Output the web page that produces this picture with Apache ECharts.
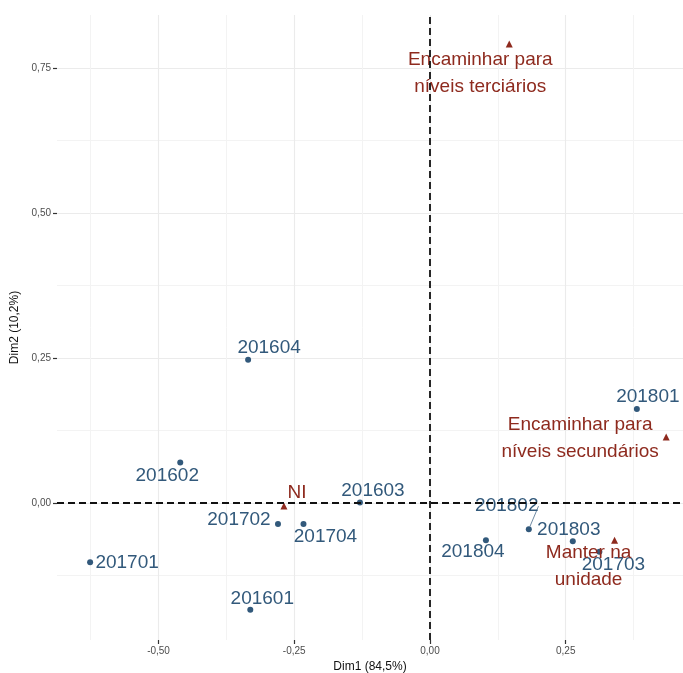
<!DOCTYPE html>
<html>
<head>
<meta charset="utf-8">
<script src="https://cdn.jsdelivr.net/npm/echarts@6/dist/echarts.min.js"></script>
<style>
  html, body { margin: 0; padding: 0; background: #fff; }
  #main { width: 683px; height: 673px; }
</style>
</head>
<body>
<div id="main"></div>
<script>
// linhas (periodos)
var rowNames = ['201601', '201602', '201603', '201604', '201701', '201702',
                '201703', '201704', '201801', '201802', '201803', '201804'];
var rowDim1 = [-0.331, -0.460, -0.129, -0.335, -0.626, -0.280,
               0.312, -0.233, 0.381, 0.182, 0.263, 0.103];
var rowDim2 = [-0.184, 0.070, 0.001, 0.247, -0.102, -0.036,
               -0.084, -0.036, 0.162, -0.045, -0.066, -0.064];

// colunas (conduta)
var colNames = ['Encaminhar para\nníveis terciários', 'Encaminhar para\nníveis secundários',
                'Manter na\nunidade', 'NI'];
var colDim1 = [0.146, 0.435, 0.340, -0.269];
var colDim2 = [0.791, 0.114, -0.064, -0.005];

// eixos
var xMajor = [-0.5, -0.25, 0, 0.25];
var xMinor = [-0.625, -0.375, -0.125, 0.125, 0.375];
var yMajor = [0, 0.25, 0.5, 0.75];
var yMinor = [-0.125, 0.125, 0.375, 0.625];

// deslocamento dos rotulos (px), estilo ggrepel
var rowShift = [[12, -11], [-13, 13], [13, -12], [21, -12], [37, 1], [-39, -4],
                [14, 13], [22, 13], [11, -12], [-22, -23], [-4, -12], [-13, 12]];
var colShift = [[-29, 29], [-86, 1], [-26, 26], [13, -13]];

var blue = '#32597b';
var red = '#8e2a1e';
var font = 'Liberation Sans, Arial, Helvetica, sans-serif';

function fmt(v) {
  return v.toFixed(2).replace('.', ',');
}

var rowData = [];
for (var i = 0; i < rowNames.length; i++) {
  var item = { name: rowNames[i], value: [rowDim1[i], rowDim2[i]] };
  if (rowNames[i] === '201802') {
    item.labelLine = { show: true, lineStyle: { color: '#6f8aa3', width: 1 } };
  }
  rowData.push(item);
}
var colData = [];
for (var j = 0; j < colNames.length; j++) {
  colData.push({ name: colNames[j], value: [colDim1[j], colDim2[j]] });
}

var hiddenLine = { show: true, onZero: false, lineStyle: { color: 'rgba(0,0,0,0)', width: 0 } };

var myChart = echarts.init(document.getElementById('main'));
myChart.setOption({
  animation: false,
  backgroundColor: '#fff',
  grid: { left: 57, right: 0, top: 15, bottom: 33, outerBoundsMode: 'none', containLabel: false },
  xAxis: [
    {
      type: 'value',
      min: -0.687,
      max: 0.466,
      name: 'Dim1 (84,5%)',
      nameLocation: 'middle',
      nameGap: 21,
      nameTextStyle: { color: '#111', fontSize: 12, fontFamily: font },
      axisLine: hiddenLine,
      axisTick: { show: true, length: 4, customValues: xMajor, lineStyle: { color: '#333', width: 1.2 } },
      axisLabel: { customValues: xMajor, color: '#4d4d4d', fontSize: 10, margin: 6,
                   fontFamily: font, formatter: fmt },
      splitLine: { show: true, lineStyle: { color: '#ebebeb', width: 1.1 } }
    },
    {
      type: 'value',
      min: -0.687,
      max: 0.466,
      axisLine: { show: false, onZero: false },
      axisTick: { show: false, customValues: xMinor },
      axisLabel: { show: false },
      splitLine: { show: true, lineStyle: { color: '#f3f3f3', width: 1 } }
    }
  ],
  yAxis: [
    {
      type: 'value',
      min: -0.236,
      max: 0.841,
      name: 'Dim2 (10,2%)',
      nameLocation: 'middle',
      nameGap: 33,
      nameTextStyle: { color: '#111', fontSize: 12, fontFamily: font },
      axisLine: hiddenLine,
      axisTick: { show: true, length: 4, customValues: yMajor, lineStyle: { color: '#333', width: 1.2 } },
      axisLabel: { customValues: yMajor, color: '#4d4d4d', fontSize: 10, margin: 6,
                   fontFamily: font, formatter: fmt },
      splitLine: { show: true, lineStyle: { color: '#ebebeb', width: 1.1 } }
    },
    {
      type: 'value',
      min: -0.236,
      max: 0.841,
      axisLine: { show: false, onZero: false },
      axisTick: { show: false, customValues: yMinor },
      axisLabel: { show: false },
      splitLine: { show: true, lineStyle: { color: '#f3f3f3', width: 1 } }
    }
  ],
  series: [
    {
      name: 'linhas',
      type: 'scatter',
      xAxisIndex: 0,
      yAxisIndex: 0,
      symbol: 'circle',
      symbolSize: 6,
      itemStyle: { color: blue, opacity: 1 },
      data: rowData,
      label: {
        show: true,
        position: 'inside',
        formatter: '{b}',
        color: blue,
        fontSize: 19,
        fontFamily: font,
        align: 'center',
        verticalAlign: 'middle'
      },
      labelLayout: function (params) {
        var s = rowShift[params.dataIndex];
        return { dx: s[0], dy: s[1] };
      },
      markLine: {
        silent: true,
        symbol: 'none',
        label: { show: false },
        lineStyle: { color: '#111', width: 1.8, type: [7, 4] },
        data: [{ xAxis: 0 }, { yAxis: 0 }]
      },
      z: 3
    },
    {
      name: 'colunas',
      type: 'scatter',
      xAxisIndex: 0,
      yAxisIndex: 0,
      symbol: 'triangle',
      symbolSize: 7,
      itemStyle: { color: red, opacity: 1 },
      data: colData,
      label: {
        show: true,
        position: 'inside',
        formatter: '{b}',
        color: red,
        fontSize: 19,
        lineHeight: 27,
        fontFamily: font,
        align: 'center',
        verticalAlign: 'middle'
      },
      labelLayout: function (params) {
        var s = colShift[params.dataIndex];
        return { dx: s[0], dy: s[1] };
      },
      z: 3
    }
  ]
});
</script>
</body>
</html>
